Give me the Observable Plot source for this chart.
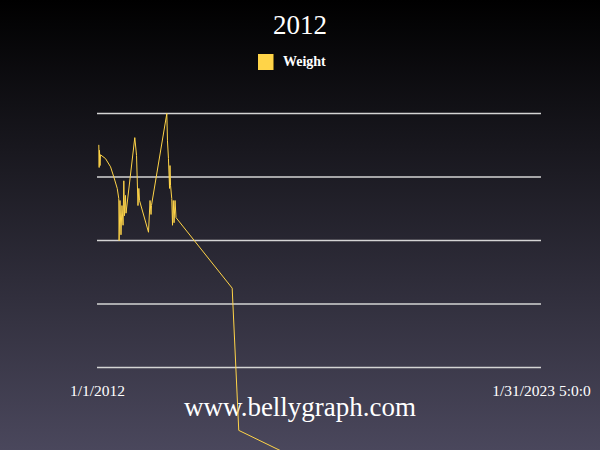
<!DOCTYPE html>
<html>
<head>
<meta charset="utf-8">
<script src="https://cdn.jsdelivr.net/npm/d3@7"></script>
<script src="https://cdn.jsdelivr.net/npm/@observablehq/plot@0.6"></script>
<style>
  html, body { margin: 0; padding: 0; background: #000; }
  #wrap {
    position: relative; width: 600px; height: 450px; overflow: hidden;
    background: linear-gradient(to bottom, #000000 0%, #4a475c 100%);
    font-family: "Liberation Serif", "DejaVu Serif", serif; color: #fff;
  }
  .abs { position: absolute; line-height: 1; white-space: nowrap; }
  #title { left: 0; width: 600px; text-align: center; top: 12.4px; font-size: 27px; }
  #legend { left: 258px; top: 55px; font-size: 14px; font-weight: bold; }
  #legend .sw { position: absolute; left: 0; top: -1px; width: 15px; height: 16px; background: #ffd448; border-right: 1px solid #8a6f1c; }
  #legend .lb { position: absolute; left: 25px; top: 0; }
  #site { left: 0; width: 600px; text-align: center; top: 394.4px; font-size: 27px; }
  #chart { position: absolute; left: 0; top: 0; }
</style>
</head>
<body>
<div id="wrap">
  <div id="title" class="abs">2012</div>
  <div id="legend" class="abs"><span class="sw"></span><span class="lb">Weight</span></div>
  <div id="site" class="abs">www.bellygraph.com</div>
  <div id="chart"></div>
</div>
<script>
// Series: weigh-in dates and weights
const dates = [
  "2012-01-13","2012-01-16","2012-01-19","2012-01-24","2012-01-28",
  "2012-03-14","2012-04-29","2012-05-29","2012-06-29","2012-07-13",
  "2012-07-16","2012-07-24","2012-08-02","2012-08-11","2012-08-21",
  "2012-08-28","2012-09-03","2012-09-12","2012-09-17","2012-12-06",
  "2012-12-22","2013-01-04","2013-01-12","2013-01-18","2013-04-10",
  "2013-04-24","2013-05-03","2013-05-07","2013-09-24","2013-09-30",
  "2013-10-09","2013-10-19","2013-10-23","2013-10-28","2013-11-08",
  "2013-11-15","2013-11-22","2013-11-29","2013-12-08","2013-12-17",
  "2015-05-13","2015-07-12","2016-07-27","2017-01-25"
];
const weights = [
  195.0, 191.5, 194.2, 191.8, 193.5,
  192.9, 191.6, 190.0, 188.2, 186.6,
  180.0, 186.3, 180.9, 185.5, 182.4,
  189.4, 183.9, 187.1, 184.3, 196.2,
  193.4, 185.5, 188.2, 186.3, 181.3,
  186.3, 184.1, 185.5, 200.0, 195.7,
  192.9, 188.2, 191.8, 188.7, 186.6,
  182.4, 186.3, 182.8, 186.3, 183.6,
  172.5, 150.1, 146.9, 145.4
];
// Axis range and ticks
const xDomain = ["2012-01-01T00:00Z", "2023-01-31T05:00Z"];
const xTickDates = ["2012-01-01T00:00Z", "2023-01-31T05:00Z"];
const xTickLabels = ["1/1/2012", "1/31/2023 5:0:0"];
const yDomain = [160, 200];
const yGrid = [160, 170, 180, 190, 200];

const rows = dates.map((d, i) => ({date: new Date(d), weight: weights[i]}));

const chart = Plot.plot({
  width: 600,
  height: 450,
  marginTop: 113,
  marginBottom: 83,
  marginLeft: 97,
  marginRight: 59,
  style: {background: "transparent", overflow: "hidden"},
  x: {type: "utc", domain: xDomain.map(d => new Date(d)), axis: null},
  y: {domain: yDomain, axis: null},
  marks: [
    Plot.ruleY(yGrid, {stroke: "#d4d4d4", strokeWidth: 1.5}),
    Plot.text(xTickLabels, {
      x: xTickDates.map(d => new Date(d)),
      text: d => d,
      frameAnchor: "bottom",
      lineAnchor: "middle",
      dy: 24,
      fill: "#ffffff",
      fontSize: 15.5,
      fontFamily: "Liberation Serif, DejaVu Serif, serif"
    }),
    Plot.line(rows, {x: "date", y: "weight", stroke: "#ffd448", strokeWidth: 1})
  ]
});
document.getElementById("chart").appendChild(chart);
</script>
</body>
</html>
